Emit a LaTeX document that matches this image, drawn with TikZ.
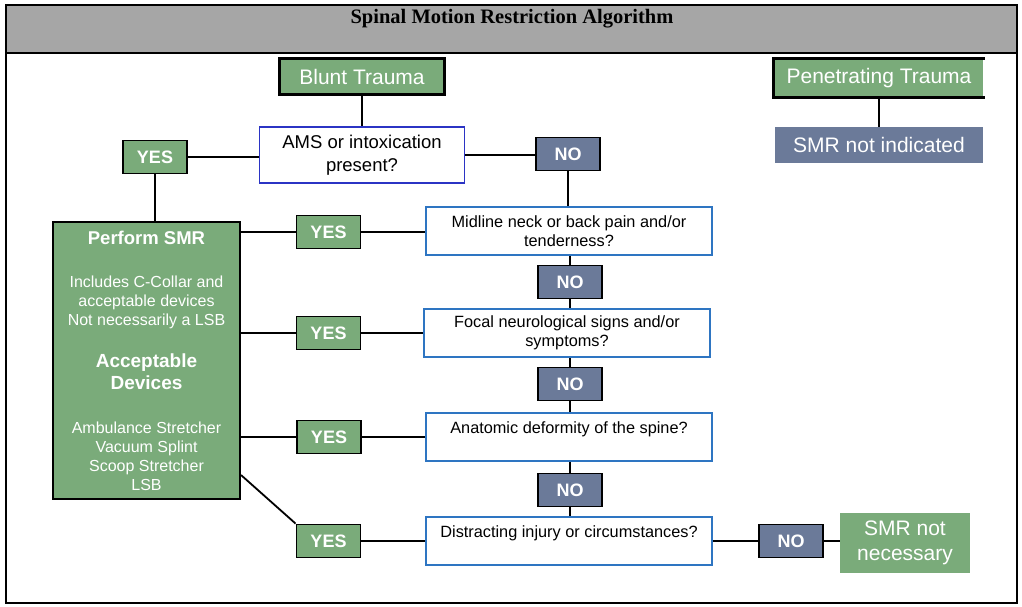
\documentclass[tikz,border=0pt]{standalone}
\usepackage{fontspec}
\setmainfont{Liberation Sans}
\newfontfamily\titlefont{Liberation Serif}
\usepackage{xcolor}
\definecolor{boxgreen}{RGB}{122,171,122}
\definecolor{boxslate}{RGB}{107,122,153}
\definecolor{amsblue}{RGB}{43,52,196}
\definecolor{qblue}{RGB}{46,117,194}
\definecolor{headgray}{RGB}{166,166,166}
\newcommand{\smrhead}[2]{{\bfseries\fontsize{#1}{19}\selectfont #2}}

\begin{document}
\begin{tikzpicture}[x=1pt,y=-1pt,
  startbox/.style={fill=boxgreen,draw=black,line width=3pt,text=white,
    font=\fontsize{21}{25}\selectfont,minimum height=36pt},
  endbox/.style={text=white,font=\fontsize{21}{25}\selectfont,align=center,
    minimum width=208pt,minimum height=36pt},
  amsbox/.style={fill=white,draw=amsblue,line width=1.6pt,align=center,
    font=\fontsize{18.5}{23}\selectfont,minimum width=205pt,minimum height=56pt},
  qbox/.style={fill=white,draw=qblue,line width=1.6pt,align=center,
    font=\fontsize{16.3}{19}\selectfont,minimum width=286pt,minimum height=48pt},
  yesbox/.style={fill=boxgreen,draw=black,line width=1.8pt,text=white,
    font=\bfseries\fontsize{18}{20}\selectfont,minimum width=64pt,minimum height=33pt},
  nobox/.style={yesbox,fill=boxslate},
  smrbox/.style={fill=boxgreen,draw=black,line width=2.2pt,text=white,align=center,
    font=\fontsize{16}{19}\selectfont,minimum width=187pt,minimum height=277pt},
  link/.style={black,line width=1.8pt}]
\tikzstyle{every node}+=[inner sep=0pt]
\useasboundingbox (0,0) rectangle (1022,607);
% frame and header
\fill [headgray] (6,5) rectangle (1017,53);
\draw [black,line width=1.2pt] (6,5) rectangle (1017,603);
\draw [black,line width=1.2pt] (6,53) -- (1017,53);
\node (title) at (512,19) {\titlefont\bfseries\fontsize{20.5}{23}\selectfont Spinal Motion Restriction Algorithm};
% start boxes
\node [startbox,minimum width=165pt] (blunt) at (362,77) {Blunt Trauma};
\node [startbox,draw=none,minimum width=208pt] (pen) at (879,78) {Penetrating Trauma};
\draw [black,line width=3pt] (pen.north east) -- (pen.north west) -- (pen.south west) -- (pen.south east);
\node [endbox,fill=boxslate] (notind) at (879,145) {SMR not indicated};
% first question
\node [amsbox] (ams) at (362,155) {AMS or intoxication\\present?};
\node [yesbox] (yes1) at (155,157) {YES};
\node [nobox] (no1) at (568,154) {NO};
% perform SMR
\node [smrbox] (smr) at (146.5,360.5) {\smrhead{18.5}{Perform SMR}\\[24pt]
  Includes C-Collar and\\acceptable devices\\Not necessarily a LSB\\[23pt]
  \smrhead{19}{Acceptable}\\[3pt]\smrhead{19}{Devices}\\[25pt]
  Ambulance Stretcher\\Vacuum Splint\\Scoop Stretcher\\LSB};
% question chain
\node [qbox] (midq) at (569,231) {Midline neck or back pain and/or\\tenderness?};
\node [nobox] (no2) at (570,282) {NO};
\node [qbox] (focq) at (567,333) {Focal neurological signs and/or\\symptoms?};
\node [nobox] (no3) at (570,384) {NO};
\node [qbox] (anaq) at (569,437) {Anatomic deformity of the spine?\\\mbox{}};
\node [nobox] (no4) at (570,490) {NO};
\node [qbox] (disq) at (569,541) {Distracting injury or circumstances?\\\mbox{}};
\node [nobox] (no5) at (791,541) {NO};
\node [endbox,fill=boxgreen,minimum width=130pt,minimum height=60pt] (notnec) at (905,543) {SMR not\\necessary};
\node [yesbox] (yes2) at (328.5,232) {YES};
\node [yesbox] (yes3) at (328.5,333) {YES};
\node [yesbox] (yes4) at (329,437) {YES};
\node [yesbox] (yes5) at (328.5,541) {YES};
% connectors
\draw [link] (blunt.south) -- (blunt.south |- ams.north);
\draw [link] (pen.south) -- (pen.south |- notind.north);
\draw [link] (yes1.east) -- (yes1.east -| ams.west);
\draw [link] (ams.east) -- (ams.east -| no1.west);
\draw [link] (yes1.south) -- (yes1.south |- smr.north);
\draw [link] (no1.south) -- (no1.south |- midq.north);
\draw [link] (midq.south -| no2.north) -- (no2.north);
\draw [link] (no2.south) -- (no2.south |- focq.north);
\draw [link] (focq.south -| no3.north) -- (no3.north);
\draw [link] (no3.south) -- (no3.south |- anaq.north);
\draw [link] (anaq.south -| no4.north) -- (no4.north);
\draw [link] (no4.south) -- (no4.south |- disq.north);
\draw [link] (yes2.west -| smr.east) -- (yes2.west);
\draw [link] (yes2.east) -- (yes2.east -| midq.west);
\draw [link] (yes3.west -| smr.east) -- (yes3.west);
\draw [link] (yes3.east) -- (yes3.east -| focq.west);
\draw [link] (yes4.west -| smr.east) -- (yes4.west);
\draw [link] (yes4.east) -- (yes4.east -| anaq.west);
\draw [link] ([yshift=25pt]smr.south east) -- (yes5.north west);
\draw [link] (yes5.east) -- (yes5.east -| disq.west);
\draw [link] (disq.east) -- (no5.west);
\draw [link] (no5.east) -- (no5.east -| notnec.west);
\end{tikzpicture}
\end{document}
